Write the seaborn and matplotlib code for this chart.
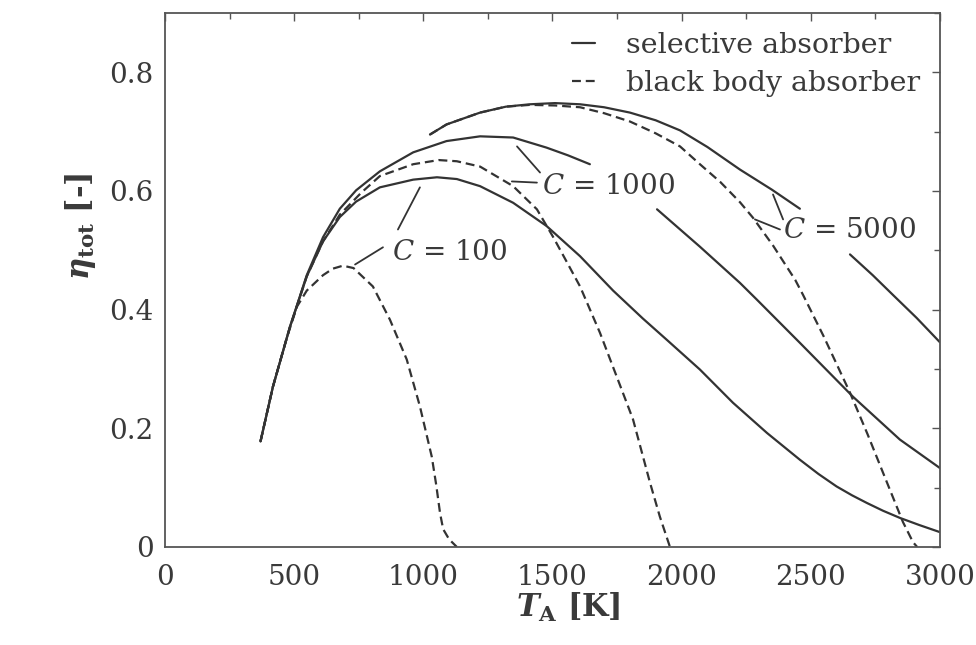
import pandas as pd
import matplotlib.pyplot as plt
import seaborn as sns
from matplotlib.ticker import MultipleLocator

# values: absorber temperature T_A [K] and total efficiency eta_tot [-]
t_sel_100 = [370, 418, 484, 549, 612, 677, 740, 832, 961, 1053, 1130, 1220, 1348, 1477, 1607,
             1735, 1850, 1943, 2071, 2199, 2331, 2458, 2530, 2600, 2660, 2718, 2780, 2845, 2920,
             3000]
eta_sel_100 = [0.178, 0.270, 0.371, 0.456, 0.515, 0.556, 0.582, 0.606, 0.619, 0.623, 0.620, 0.608,
               0.580, 0.541, 0.490, 0.432, 0.385, 0.349, 0.299, 0.243, 0.192, 0.147, 0.123, 0.102,
               0.087, 0.074, 0.061, 0.049, 0.037, 0.025]

t_bb_100 = [370, 418, 470, 511, 549, 612, 650, 689, 730, 805, 871, 936, 987, 1033, 1050, 1065,
            1077, 1100, 1130]
eta_bb_100 = [0.178, 0.270, 0.350, 0.405, 0.432, 0.458, 0.469, 0.474, 0.470, 0.439, 0.383, 0.316,
              0.237, 0.152, 0.105, 0.057, 0.030, 0.013, 0.0]

# selective C = 1000 is interrupted by its label
t_sel_1000a = [370, 418, 484, 549, 612, 677, 740, 832, 961, 1090, 1220, 1348, 1477, 1560, 1645]
eta_sel_1000a = [0.178, 0.270, 0.371, 0.458, 0.522, 0.570, 0.601, 0.633, 0.665, 0.684, 0.692,
                 0.690, 0.673, 0.660, 0.645]
t_sel_1000b = [1905, 2071, 2226, 2291, 2458, 2664, 2845, 3000]
eta_sel_1000b = [0.569, 0.506, 0.445, 0.417, 0.344, 0.253, 0.181, 0.133]

t_bb_1000 = [370, 418, 484, 549, 612, 677, 760, 832, 961, 1060, 1130, 1220, 1348, 1440, 1502,
             1556, 1607, 1684, 1749, 1812, 1878, 1916, 1955]
eta_bb_1000 = [0.178, 0.270, 0.371, 0.456, 0.515, 0.560, 0.597, 0.625, 0.645, 0.652, 0.650, 0.641,
               0.608, 0.569, 0.523, 0.480, 0.439, 0.361, 0.287, 0.215, 0.108, 0.051, 0.0]

# selective C = 5000 is interrupted by its label
t_sel_5000a = [1026, 1090, 1220, 1320, 1413, 1510, 1607, 1700, 1800, 1900, 1994, 2100, 2226,
               2350, 2458]
eta_sel_5000a = [0.695, 0.712, 0.732, 0.742, 0.746, 0.748, 0.746, 0.741, 0.732, 0.719, 0.702,
                 0.674, 0.636, 0.602, 0.570]
t_sel_5000b = [2652, 2740, 2820, 2910, 3000]
eta_sel_5000b = [0.493, 0.458, 0.424, 0.386, 0.345]

t_bb_5000 = [1026, 1090, 1220, 1320, 1413, 1510, 1607, 1700, 1800, 1900, 1994, 2071, 2150, 2226,
             2276, 2354, 2440, 2470, 2550, 2652, 2720, 2780, 2857, 2896, 2912]
eta_bb_5000 = [0.695, 0.712, 0.732, 0.742, 0.745, 0.744, 0.741, 0.731, 0.717, 0.697, 0.675, 0.645,
               0.615, 0.581, 0.555, 0.508, 0.450, 0.425, 0.355, 0.260, 0.190, 0.125, 0.042, 0.008,
               0.0]

x_ticks = [0, 500, 1000, 1500, 2000, 2500, 3000]
y_ticks = [0, 0.2, 0.4, 0.6, 0.8]
y_tick_labels = ['0', '0.2', '0.4', '0.6', '0.8']

SEL = 'selective absorber'
BB = 'black body absorber'

curves = [
    ('sel_100', SEL, t_sel_100, eta_sel_100),
    ('bb_100', BB, t_bb_100, eta_bb_100),
    ('sel_1000a', SEL, t_sel_1000a, eta_sel_1000a),
    ('sel_1000b', SEL, t_sel_1000b, eta_sel_1000b),
    ('bb_1000', BB, t_bb_1000, eta_bb_1000),
    ('sel_5000a', SEL, t_sel_5000a, eta_sel_5000a),
    ('sel_5000b', SEL, t_sel_5000b, eta_sel_5000b),
    ('bb_5000', BB, t_bb_5000, eta_bb_5000),
]
frames = []
for name, absorber, t, eta in curves:
    frames.append(pd.DataFrame({'T': t, 'eta': eta, 'curve': name, 'absorber': absorber}))
df = pd.concat(frames, ignore_index=True)

sns.set_style('white')
plt.rcParams['font.family'] = ['DejaVu Serif']
plt.rcParams['mathtext.fontset'] = 'custom'
plt.rcParams['mathtext.rm'] = 'DejaVu Serif'
plt.rcParams['mathtext.it'] = 'DejaVu Serif:italic'
plt.rcParams['mathtext.bf'] = 'DejaVu Serif:bold'
plt.rcParams['mathtext.bfit'] = 'DejaVu Serif:italic:bold'

ink = '#333333'
text_col = '#3a3a3a'
fs = 20

fig = plt.figure(figsize=(9.76, 6.45), dpi=100)
ax = fig.add_axes([0.169, 0.152, 0.794, 0.828])

sns.lineplot(data=df, x='T', y='eta', style='absorber', units='curve', estimator=None,
             sort=False, color=ink, lw=1.6, style_order=[SEL, BB],
             dashes={SEL: '', BB: (4, 2.2)}, ax=ax)

ax.set_xlim(0, 3000)
ax.set_ylim(0, 0.9)
ax.set_xticks(x_ticks)
ax.set_yticks(y_ticks)
ax.set_yticklabels(y_tick_labels)
ax.xaxis.set_minor_locator(MultipleLocator(250))
ax.yaxis.set_minor_locator(MultipleLocator(0.1))
ax.tick_params(which='both', direction='in', top=True, right=True, colors='#555555',
               labelcolor=text_col, labelsize=fs, width=1.0)
ax.tick_params(which='major', length=6)
ax.tick_params(which='minor', length=4)
ax.tick_params(axis='x', which='major', pad=12)
ax.tick_params(axis='y', which='major', pad=8)
for sp in ax.spines.values():
    sp.set_color('#555555')
    sp.set_linewidth(1.3)

ax.set_xlabel(r'$\mathbfit{T}_{\mathbf{A}}$ [K]', fontsize=fs + 2, fontweight='bold', color=text_col)
ax.set_ylabel(r'$\mathbfit{\eta}_{\mathbf{tot}}$ [-]', fontsize=fs + 2, fontweight='bold', color=text_col)
ax.xaxis.set_label_coords(0.52, -0.083)
ax.yaxis.set_label_coords(-0.087, 0.6)

handles, labels = ax.get_legend_handles_labels()
ax.legend(handles, labels, loc='upper right', bbox_to_anchor=(0.975, 0.965), frameon=False,
          fontsize=fs + 0.5, handlelength=0.8, handletextpad=1.1, labelspacing=0.4,
          borderpad=0, borderaxespad=0, labelcolor=text_col)

# curve labels with their leader lines
ax.text(879, 0.496, r'$C$ = 100', fontsize=fs, color=text_col, va='center', ha='left')
ax.text(1460, 0.608, r'$C$ = 1000', fontsize=fs, color=text_col, va='center', ha='left')
ax.text(2393, 0.533, r'$C$ = 5000', fontsize=fs, color=text_col, va='center', ha='left')
leaders = [
    ([987, 902], [0.606, 0.535]), ([844, 736], [0.505, 0.476]),
    ([1363, 1452], [0.675, 0.631]), ([1343, 1440], [0.616, 0.614]),
    ([2354, 2393], [0.594, 0.552]), ([2284, 2381], [0.552, 0.535]),
]
for lx, ly in leaders:
    ax.plot(lx, ly, color=ink, lw=1.3)

fig.savefig('out.png', dpi=100)
